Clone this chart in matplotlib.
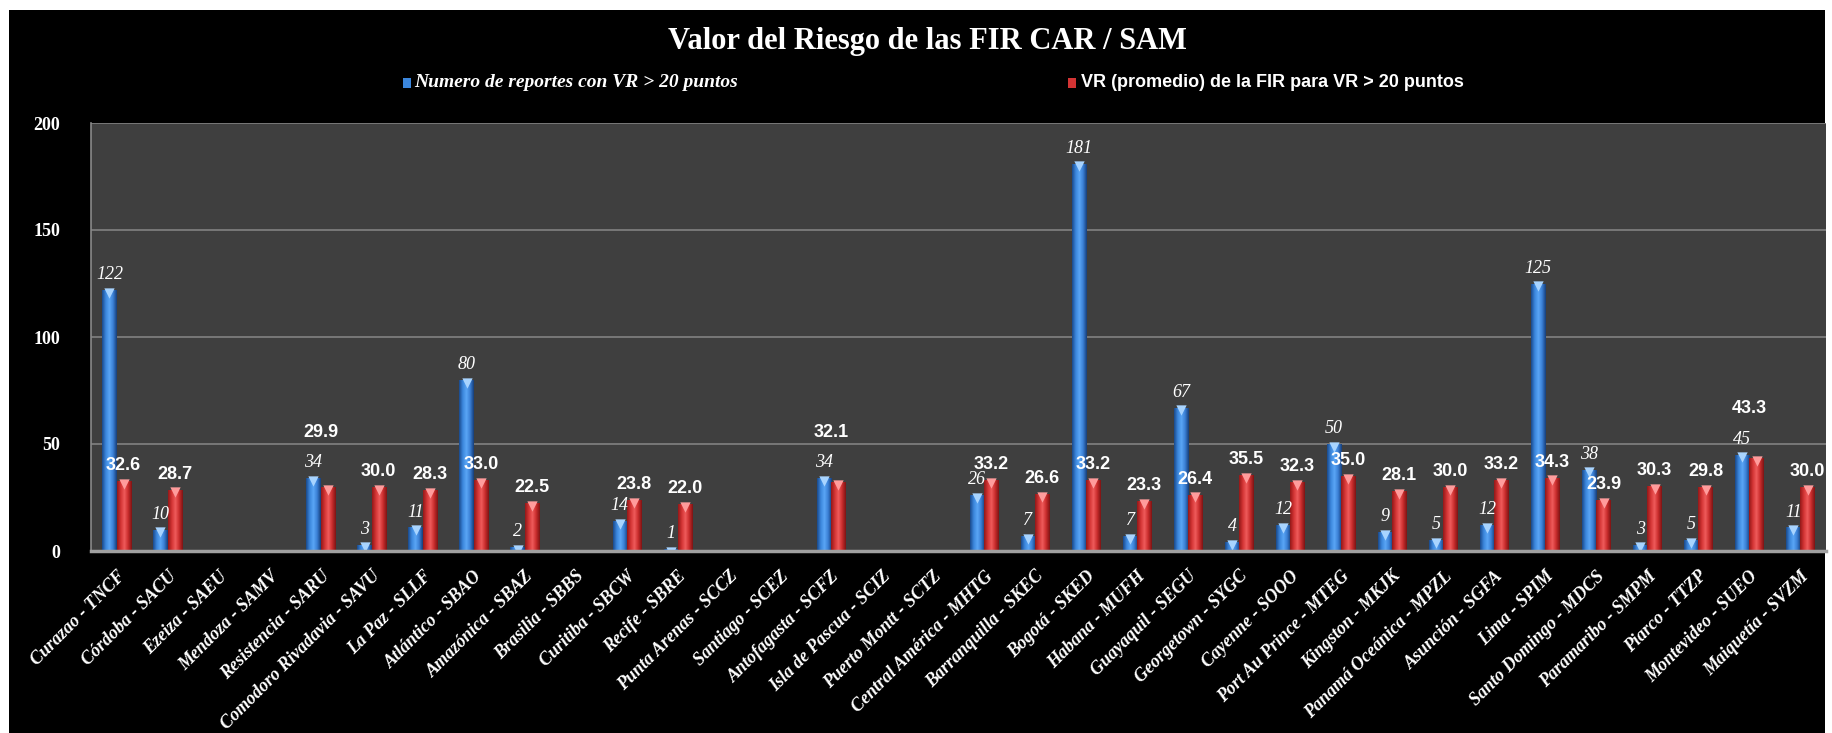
import numpy as np
import matplotlib.pyplot as plt
from matplotlib.patches import Rectangle
from matplotlib.colors import LinearSegmentedColormap

nan = np.nan

firs = ["Curazao - TNCF", "Córdoba - SACU", "Ezeiza - SAEU", "Mendoza - SAMV",
        "Resistencia - SARU", "Comodoro Rivadavia - SAVU", "La Paz - SLLF",
        "Atlántico - SBAO", "Amazónica - SBAZ", "Brasilia - SBBS", "Curitiba - SBCW",
        "Recife - SBRE", "Punta Arenas - SCCZ", "Santiago - SCEZ", "Antofagasta - SCFZ",
        "Isla de Pascua - SCIZ", "Puerto Montt - SCTZ", "Central América - MHTG",
        "Barranquilla - SKEC", "Bogotá - SKED", "Habana - MUFH", "Guayaquil - SEGU",
        "Georgetown - SYGC", "Cayenne - SOOO", "Port Au Prince - MTEG", "Kingston - MKJK",
        "Panamá Oceánica - MPZL", "Asunción - SGFA", "Lima - SPIM", "Santo Domingo - MDCS",
        "Paramaribo - SMPM", "Piarco - TTZP", "Montevideo - SUEO", "Maiquetía - SVZM"]

reportes = [122, 10, nan, nan, 34, 3, 11, 80, 2, nan, 14, 1, nan, nan, 34, nan, nan,
            26, 7, 181, 7, 67, 4, 12, 50, 9, 5, 12, 125, 38, 3, 5, 45, 11]

vr_promedio = [32.6, 28.7, nan, nan, 29.9, 30.0, 28.3, 33.0, 22.5, nan, 23.8, 22.0, nan, nan,
               32.1, nan, nan, 33.2, 26.6, 33.2, 23.3, 26.4, 35.5, 32.3, 35.0, 28.1, 30.0,
               33.2, 34.3, 23.9, 30.3, 29.8, 43.3, 30.0]

reportes = np.array(reportes, dtype=float)
vr_promedio = np.array(vr_promedio, dtype=float)

blue_cmap = LinearSegmentedColormap.from_list(
    "azul", ["#1a4a8c", "#3b86dc", "#5aa6f6", "#3a7fd4", "#173f7a"])
red_cmap = LinearSegmentedColormap.from_list(
    "rojo", ["#931818", "#d33434", "#ef5b5b", "#c92d2d", "#7e1414"])


def gradient_bars(ax, xs, heights, width, cmap, tip_color):
    grad = np.linspace(0, 1, 64).reshape(1, -1)
    for xi, h in zip(xs, heights):
        if np.isnan(h):
            continue
        bar = ax.bar(xi, h, width, color='none', linewidth=0, zorder=3)[0]
        im = ax.imshow(grad, cmap=cmap, aspect='auto', zorder=3,
                       extent=(xi - width / 2, xi + width / 2, 0, h))
        im.set_clip_path(bar)
        # little light triangle on top of each bar
        ax.scatter([xi], [h - 1.3], marker='v', s=55, color=tip_color,
                   linewidths=0, zorder=4)


fig = plt.figure(figsize=(18.33, 7.33), dpi=100, facecolor='white')
fig.patches.append(Rectangle((9 / 1833, 0), 1 - 17 / 1833, 1 - 10 / 733,
                             transform=fig.transFigure, facecolor='black',
                             edgecolor='none', zorder=-10))

ax = fig.add_axes([91 / 1833, 182 / 733, 1735 / 1833, 428 / 733])
ax.set_facecolor('#3f3f3f')

x = np.arange(len(firs))
w = 0.28
gradient_bars(ax, x - w / 2, reportes, w, blue_cmap, '#a8d4ff')
gradient_bars(ax, x + w / 2, vr_promedio, w, red_cmap, '#ff9c9c')

# labels
for xi, b, r in zip(x, reportes, vr_promedio):
    if not np.isnan(b):
        ax.annotate(f"{int(b)}", (xi - w / 2, b), xytext=(0, 5), textcoords='offset points',
                    ha='center', va='bottom', color='white', fontsize=13,
                    family='Liberation Serif', style='italic', zorder=5)
    if not np.isnan(r):
        ry, dy, lx = r, 5, xi + w / 2
        if not np.isnan(b) and 0 <= b - r < 5:
            # label pushed above the blue label when the bars are close
            ry, dy, lx = b, 27, xi
        ax.annotate(f"{r:.1f}", (lx, ry), xytext=(0, dy), textcoords='offset points',
                    ha='center', va='bottom', color='white', fontsize=13,
                    family='Liberation Sans', weight='bold', zorder=5)

ax.set_xlim(-0.5, len(firs) - 0.5)
ax.set_ylim(0, 200)
ax.set_yticks([0, 50, 100, 150, 200])
ax.yaxis.grid(True, color='#7c7c7c', linewidth=1.3, zorder=0)
ax.set_axisbelow(True)
for s in ['top', 'right']:
    ax.spines[s].set_visible(False)
ax.spines['left'].set_color('#8a8a8a')
ax.spines['left'].set_linewidth(1.2)
ax.spines['bottom'].set_color('#a0a0a0')
ax.spines['bottom'].set_linewidth(2.5)
ax.spines['bottom'].set_zorder(6)

ax.set_xticks(x)
ax.set_xticklabels(firs, rotation=45, ha='right', rotation_mode='anchor',
                   color='white', fontsize=13, family='Liberation Serif',
                   weight='bold', style='italic')
ax.tick_params(axis='x', length=0, pad=12)
ax.tick_params(axis='y', length=0, pad=22, colors='white')
for lab in ax.get_yticklabels():
    lab.set_family('Liberation Serif')
    lab.set_weight('bold')
    lab.set_fontsize(13)

fig.text(0.506, 0.943, "Valor del Riesgo de las FIR CAR / SAM", ha='center', va='center',
         color='white', fontsize=22, family='Liberation Serif', weight='bold')

# legend
fig.patches.append(Rectangle((403 / 1833, 0.880), 8 / 1833, 10 / 733, transform=fig.transFigure,
                             facecolor='#3b86dc', edgecolor='none'))
fig.text(414 / 1833, 0.887, "Numero de reportes con VR > 20 puntos", ha='left', va='center',
         color='white', fontsize=14, family='Liberation Serif', weight='bold', style='italic')
fig.patches.append(Rectangle((1068 / 1833, 0.880), 8 / 1833, 10 / 733, transform=fig.transFigure,
                             facecolor='#d33434', edgecolor='none'))
fig.text(1081 / 1833, 0.887, "VR (promedio) de la FIR para VR > 20 puntos", ha='left', va='center',
         color='white', fontsize=13, family='Liberation Sans', weight='bold')

fig.savefig('out.png', dpi=100, facecolor=fig.get_facecolor())
